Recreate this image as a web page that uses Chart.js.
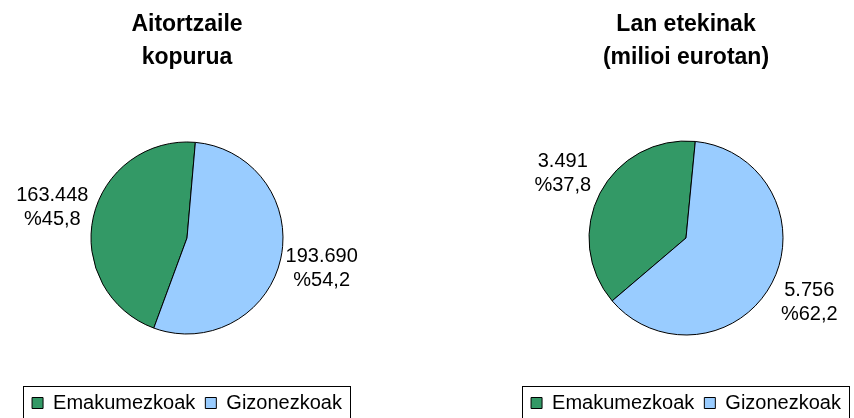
<!doctype html>
<html lang="eu">
<head>
    <meta charset="utf-8">
    <title>Aitortzaileak eta lan etekinak</title>
    <script src="https://cdn.jsdelivr.net/npm/chart.js"></script>
    <style>
        html, body { margin: 0; padding: 0; background: #fff; overflow: hidden; }
        .chart-container { position: absolute; top: 0; height: 423px; }
    </style>
</head>
<body>
<div class="chart-container" style="left:0px; width:374px">
    <canvas id="count-chart" width="374" height="423"></canvas>
</div>
<div class="chart-container" style="left:500px; width:372px">
    <canvas id="income-chart" width="372" height="423"></canvas>
</div>
<script>
    // DATA
    const categories = ['Emakumezkoak', 'Gizonezkoak'];
    const declarants = [163448, 193690];      // Aitortzaile kopurua
    const workIncome = [3491, 5756];          // Lan etekinak, milioi eurotan
    const sliceColors = ['#339966', '#99CCFF'];

    const FONT = '"Liberation Sans", Arial, sans-serif';

    function thousands(v) {
        return String(v).replace(/\B(?=(\d{3})+(?!\d))/g, '.');
    }

    // value + percentage outside every slice
    const sliceLabels = {
        id: 'sliceLabels',
        afterDatasetsDraw(chart) {
            const ctx = chart.ctx;
            const values = chart.data.datasets[0].data;
            const total = values.reduce((a, b) => a + b, 0);
            ctx.save();
            ctx.font = '20px ' + FONT;
            ctx.fillStyle = '#000';
            ctx.textAlign = 'center';
            ctx.textBaseline = 'middle';
            chart.getDatasetMeta(0).data.forEach((arc, i) => {
                const p = arc.getProps(['x', 'y', 'startAngle', 'endAngle', 'outerRadius'], true);
                const mid = (p.startAngle + p.endAngle) / 2;
                const d = p.outerRadius + 42;
                const x = p.x + Math.cos(mid) * d;
                const y = p.y + Math.sin(mid) * d;
                ctx.fillText(thousands(values[i]), x, y - 12);
                ctx.fillText('%' + (values[i] / total * 100).toFixed(1).replace('.', ','), x, y + 12);
            });
            ctx.restore();
        }
    };

    // thin black frame round the legend (bottom runs off the page)
    const legendFrame = {
        id: 'legendFrame',
        afterDraw(chart) {
            const boxes = chart.legend.legendHitBoxes;
            if (!boxes || !boxes.length) return;
            const first = boxes[0], last = boxes[boxes.length - 1];
            const left = Math.round(first.left - 9) + 0.5;
            const right = Math.round(last.left + last.width + 8) + 0.5;
            const top = Math.round(first.top - 7) + 0.5;
            const ctx = chart.ctx;
            ctx.save();
            ctx.strokeStyle = '#000';
            ctx.lineWidth = 1;
            ctx.strokeRect(left, top, right - left, chart.height - top + 20);
            ctx.restore();
        }
    };

    function makePie(canvasId, titleLines, values, radius, endOfFirst) {
        const total = values.reduce((a, b) => a + b, 0);
        return new Chart(document.getElementById(canvasId).getContext('2d'), {
            type: 'pie',
            plugins: [sliceLabels, legendFrame],
            data: {
                labels: categories,
                datasets: [{
                    data: values,
                    backgroundColor: sliceColors,
                    borderColor: '#000',
                    borderWidth: 1
                }]
            },
            options: {
                responsive: false,
                animation: false,
                radius: radius,
                // first slice (Emakumezkoak) ends just right of 12 o'clock
                rotation: endOfFirst - values[0] / total * 360,
                layout: { padding: 0 },
                plugins: {
                    title: {
                        display: true,
                        text: titleLines,
                        color: '#000',
                        font: { family: FONT, size: 23, weight: 'bold', lineHeight: '33px' },
                        padding: { top: 8, bottom: 19 }
                    },
                    legend: {
                        position: 'bottom',
                        labels: {
                            color: '#000',
                            font: { family: FONT, size: 20 },
                            boxWidth: 11,
                            boxHeight: 11,
                            padding: 10
                        }
                    },
                    tooltip: { enabled: false }
                }
            }
        });
    }

    // CHARTS
    makePie('count-chart', ['Aitortzaile', 'kopurua'], declarants, 96, 5);
    makePie('income-chart', ['Lan etekinak', '(milioi eurotan)'], workIncome, 97, 5.5);
</script>
</body>
</html>
